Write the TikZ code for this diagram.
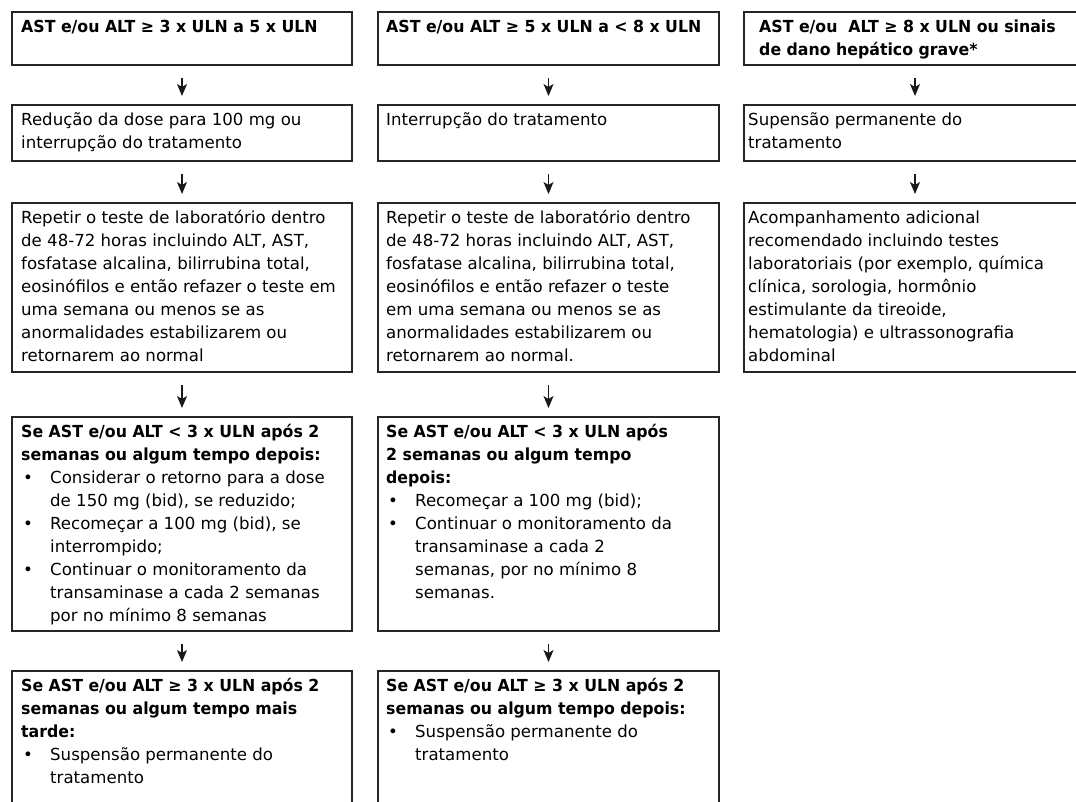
\documentclass[tikz,border=0pt]{standalone}
\usepackage{fontspec}
\setmainfont{DejaVu Sans}[BoldFeatures={FakeStretch=0.95}]
\usetikzlibrary{arrows.meta}
\newcommand\bul{\makebox[29pt][l]{\hspace{2pt}\textbullet}}
\newcommand\ind{\hspace*{29pt}}
\newcommand\fst{\rule{0pt}{15pt}}

\begin{document}
\begin{tikzpicture}[x=1pt, y=-1pt,
    box/.style={draw=black!85, line width=1.2pt, inner sep=0pt, outer sep=0pt, anchor=north west},
    txt/.style={anchor=north west, inner sep=0pt, align=left, font=\fontsize{16.6}{23}\selectfont},
    arr/.style={draw=black!90, line width=1.3pt, -{Stealth[length=12pt, width=10pt, inset=3pt]}}]
    \clip (0, 0) rectangle (1076, 801);

    \node[box, minimum width=340pt, minimum height=53pt] (a1) at (12, 12) {};
    \node[box, minimum width=341pt, minimum height=53pt] (b1) at (378, 12) {};
    \node[box, minimum width=342pt, minimum height=53pt] (c1) at (744, 12) {};
    \node[box, minimum width=340pt, minimum height=56pt] (a2) at (12, 105) {};
    \node[box, minimum width=341pt, minimum height=56pt] (b2) at (378, 105) {};
    \node[box, minimum width=342pt, minimum height=56pt] (c2) at (744, 105) {};
    \node[box, minimum width=340pt, minimum height=169pt] (a3) at (12, 203) {};
    \node[box, minimum width=341pt, minimum height=169pt] (b3) at (378, 203) {};
    \node[box, minimum width=342pt, minimum height=169pt] (c3) at (744, 203) {};
    \node[box, minimum width=340pt, minimum height=214pt] (a4) at (12, 417) {};
    \node[box, minimum width=341pt, minimum height=214pt] (b4) at (378, 417) {};
    \node[box, minimum width=340pt, minimum height=150pt] (a5) at (12, 671) {};
    \node[box, minimum width=341pt, minimum height=150pt] (b5) at (378, 671) {};

    \node[txt] (ta1) at (21, 17) {\fst\textbf{AST e/ou ALT ≥ 3 x ULN a 5 x ULN}};
    \node[txt] (tb1) at (386, 17) {\fst\textbf{AST e/ou ALT ≥ 5 x ULN a < 8 x ULN}};
    \node[txt] (tc1) at (759, 17) {\fst\textbf{AST e/ou~ ALT ≥ 8 x ULN ou sinais}\\
        \textbf{de dano hepático grave*}};

    \node[txt] (ta2) at (21, 110) {\fst Redução da dose para 100 mg ou\\
        interrupção do tratamento};
    \node[txt] (tb2) at (386, 110) {\fst Interrupção do tratamento};
    \node[txt] (tc2) at (748, 110) {\fst Supensão permanente do\\
        tratamento};

    \node[txt] (ta3) at (21, 208) {\fst Repetir o teste de laboratório dentro\\
        de 48-72 horas incluindo ALT, AST,\\
        fosfatase alcalina, bilirrubina total,\\
        eosinófilos e então refazer o teste em\\
        uma semana ou menos se as\\
        anormalidades estabilizarem ou\\
        retornarem ao normal};
    \node[txt] (tb3) at (386, 208) {\fst Repetir o teste de laboratório dentro\\
        de 48-72 horas incluindo ALT, AST,\\
        fosfatase alcalina, bilirrubina total,\\
        eosinófilos e então refazer o teste\\
        em uma semana ou menos se as\\
        anormalidades estabilizarem ou\\
        retornarem ao normal.};
    \node[txt] (tc3) at (748, 208) {\fst Acompanhamento adicional\\
        recomendado incluindo testes\\
        laboratoriais (por exemplo, química\\
        clínica, sorologia, hormônio\\
        estimulante da tireoide,\\
        hematologia) e ultrassonografia\\
        abdominal};

    \node[txt] (ta4) at (21, 422) {\fst\textbf{Se AST e/ou ALT < 3 x ULN após 2}\\
        \textbf{semanas ou algum tempo depois:}\\
        \bul Considerar o retorno para a dose\\
        \ind de 150 mg (bid), se reduzido;\\
        \bul Recomeçar a 100 mg (bid), se\\
        \ind interrompido;\\
        \bul Continuar o monitoramento da\\
        \ind transaminase a cada 2 semanas\\
        \ind por no mínimo 8 semanas};
    \node[txt] (tb4) at (386, 422) {\fst\textbf{Se AST e/ou ALT < 3 x ULN após}\\
        \textbf{2 semanas ou algum tempo}\\
        \textbf{depois:}\\
        \bul Recomeçar a 100 mg (bid);\\
        \bul Continuar o monitoramento da\\
        \ind transaminase a cada 2\\
        \ind semanas, por no mínimo 8\\
        \ind semanas.};

    \node[txt] (ta5) at (21, 676) {\fst\textbf{Se AST e/ou ALT ≥ 3 x ULN após 2}\\
        \textbf{semanas ou algum tempo mais}\\
        \textbf{tarde:}\\
        \bul Suspensão permanente do\\
        \ind tratamento};
    \node[txt] (tb5) at (386, 676) {\fst\textbf{Se AST e/ou ALT ≥ 3 x ULN após 2}\\
        \textbf{semanas ou algum tempo depois:}\\
        \bul Suspensão permanente do\\
        \ind tratamento};

    \draw[arr] ([yshift=-13pt]a1.south) -- ([yshift=9pt]a2.north);
    \draw[arr] ([yshift=-13pt]a2.south) -- ([yshift=9pt]a3.north);
    \draw[arr] ([yshift=-13pt]a3.south) -- ([yshift=9pt]a4.north);
    \draw[arr] ([yshift=-13pt]a4.south) -- ([yshift=9pt]a5.north);
    \draw[arr] ([yshift=-13pt]b1.south) -- ([yshift=9pt]b2.north);
    \draw[arr] ([yshift=-13pt]b2.south) -- ([yshift=9pt]b3.north);
    \draw[arr] ([yshift=-13pt]b3.south) -- ([yshift=9pt]b4.north);
    \draw[arr] ([yshift=-13pt]b4.south) -- ([yshift=9pt]b5.north);
    \draw[arr] ([yshift=-13pt]c1.south) -- ([yshift=9pt]c2.north);
    \draw[arr] ([yshift=-13pt]c2.south) -- ([yshift=9pt]c3.north);
\end{tikzpicture}
\end{document}
